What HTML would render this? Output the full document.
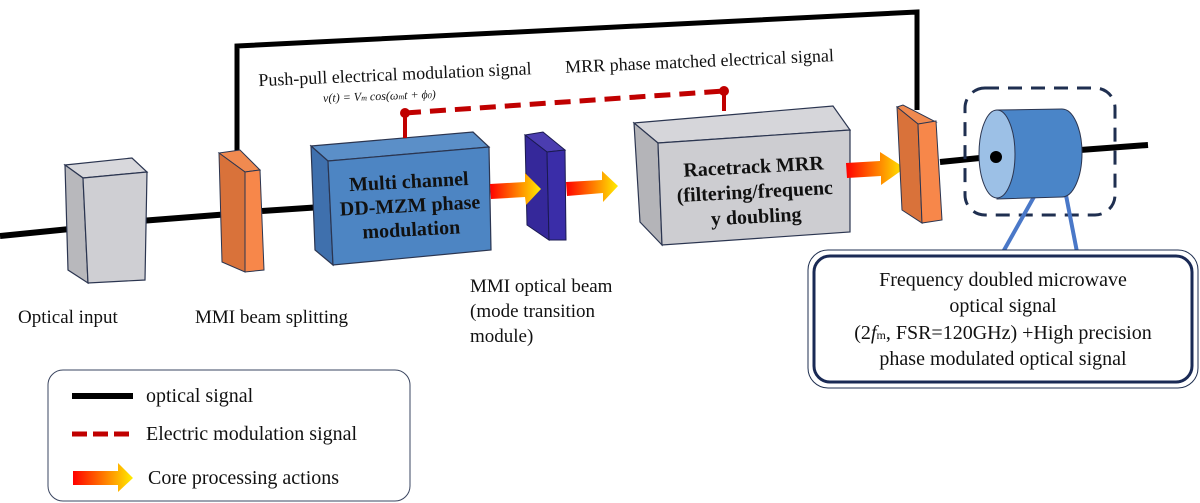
<!DOCTYPE html>
<html><head><meta charset="utf-8"><style>
body{margin:0;background:#fff;}
svg{display:block;font-family:"Liberation Serif","DejaVu Serif",serif;}
svg text{font-family:"Liberation Serif","DejaVu Serif",serif !important;fill:#111;}
</style></head><body>
<svg width="1200" height="503" viewBox="0 0 1200 503" xmlns="http://www.w3.org/2000/svg" font-family="Liberation Serif, DejaVu Serif, serif">
<defs>
<linearGradient id="g" x1="0" x2="1" y1="0" y2="0"><stop offset="0" stop-color="#f00"/><stop offset="1" stop-color="#ffee00"/></linearGradient>
</defs>
<polyline points="0,236 70,229" stroke="#000" stroke-width="6" fill="none"/>
<polyline points="140,221 230,214" stroke="#000" stroke-width="6" fill="none"/>
<polyline points="262,211 322,207" stroke="#000" stroke-width="6" fill="none"/>
<polyline points="940,162 1000,156" stroke="#000" stroke-width="6" fill="none"/>
<polyline points="1080,150 1148,145" stroke="#000" stroke-width="6" fill="none"/>
<polyline points="237,165 237,46 917,12 917,110" stroke="#000" stroke-width="5" fill="none"/>
<polygon points="65,165 132,158 147,172 83,178" fill="#d8d8dc" stroke="#2b3550" stroke-width="1.2"/>
<polygon points="65,165 83,178 88,283 68,270" fill="#b8b8bc" stroke="#2b3550" stroke-width="1.2"/>
<polygon points="83,178 147,172 145,280 88,283" fill="#cfcfd3" stroke="#2b3550" stroke-width="1.2"/>
<polygon points="219,153 240,150 260,170 245,172" fill="#f08a50" stroke="#2b3550" stroke-width="1"/>
<polygon points="219,153 245,172 245,272 222,262" fill="#d9723a" stroke="#2b3550" stroke-width="1"/>
<polygon points="245,172 260,170 264,270 245,272" fill="#f7874a" stroke="#2b3550" stroke-width="1"/>
<polygon points="311,146 473,132 489,147 328,161" fill="#5b8fc8" stroke="#2b3550" stroke-width="1.2"/>
<polygon points="311,146 328,161 333,265 315,250" fill="#3f70ad" stroke="#2b3550" stroke-width="1.2"/>
<polygon points="328,161 489,147 491,250 333,265" fill="#4d85c3" stroke="#2b3550" stroke-width="1.2"/>
<text font-family="Liberation Serif, DejaVu Serif, serif" font-weight="bold" font-size="20" text-anchor="middle" transform="rotate(-3 410 205)"><tspan x="410" y="188">Multi channel</tspan><tspan x="410" y="212">DD-MZM phase</tspan><tspan x="410" y="236">modulation</tspan></text>
<polygon points="525,135 543,132 565,150 547,152" fill="#4b3db0" stroke="#1a1a50" stroke-width="1"/>
<polygon points="525,135 547,152 549,240 527,225" fill="#35289a" stroke="#1a1a50" stroke-width="1"/>
<polygon points="547,152 565,150 566,240 549,240" fill="#3a2da8" stroke="#1a1a50" stroke-width="1"/>
<polygon points="634,123 833,106 850,130 658,143" fill="#d6d6da" stroke="#2b3550" stroke-width="1.2"/>
<polygon points="634,123 658,143 662,245 640,222" fill="#b4b4b8" stroke="#2b3550" stroke-width="1.2"/>
<polygon points="658,143 850,130 850,232 662,245" fill="#cdcdd1" stroke="#2b3550" stroke-width="1.2"/>
<text font-family="Liberation Serif, DejaVu Serif, serif" font-weight="bold" font-size="20" text-anchor="middle" transform="rotate(-3 755 195)"><tspan x="755" y="173">Racetrack MRR</tspan><tspan x="755" y="198">(filtering/frequenc</tspan><tspan x="755" y="223">y doubling</tspan></text>
<polygon points="490,184 525,182 525,173 541,189 526,205 525,197 491,199" fill="url(#g)"/>
<polygon points="566,182 602,180 602,171 618,186 603,202 603,193 567,196" fill="url(#g)"/>
<polygon points="846,163 880,161 880,152 905,168 881,185 881,176 847,178" fill="url(#g)"/>
<polygon points="897,107 903,105 936,122 918,124" fill="#f08a50" stroke="#2b3550" stroke-width="1"/>
<polygon points="897,107 918,124 922,223 902,210" fill="#d9723a" stroke="#2b3550" stroke-width="1"/>
<polygon points="918,124 936,121 942,220 922,223" fill="#f7874a" stroke="#2b3550" stroke-width="1"/>
<line x1="405" y1="113" x2="724" y2="91" stroke="#c00000" stroke-width="5" stroke-dasharray="16,9"/>
<line x1="405" y1="113" x2="405" y2="138" stroke="#c00000" stroke-width="4"/>
<line x1="724" y1="91" x2="724" y2="111" stroke="#c00000" stroke-width="4"/>
<circle cx="405" cy="113" r="5" fill="#c00000"/><circle cx="724" cy="91" r="5" fill="#c00000"/>
<text font-family="Liberation Serif, DejaVu Serif, serif" font-size="18" transform="rotate(-2.5 400 70)" x="258" y="80">Push-pull electrical modulation signal</text>
<text font-family="Liberation Serif, DejaVu Serif, serif" font-size="18" transform="rotate(-2.5 700 60)" x="565" y="67">MRR phase matched electrical signal</text>
<text font-family="Liberation Serif, DejaVu Serif, serif" font-size="12" font-style="italic" x="323" y="100" transform="rotate(-2 380 96)">v(t) = V<tspan font-size="8">m</tspan> cos(ω<tspan font-size="8">m</tspan>t + ϕ<tspan font-size="8">0</tspan>)</text>
<g font-family="Liberation Serif, DejaVu Serif, serif" font-size="19">
<text x="18" y="323">Optical input</text>
<text x="195" y="323">MMI beam splitting</text>
<text x="470" y="292">MMI optical beam</text>
<text x="470" y="317">(mode transition</text>
<text x="470" y="342">module)</text>
</g>
<rect x="965" y="88" width="150" height="127" rx="20" fill="none" stroke="#1f2f50" stroke-width="3" stroke-dasharray="14,9"/>
<line x1="1035" y1="195" x2="1003" y2="252" stroke="#4a78c8" stroke-width="4"/>
<line x1="1065" y1="190" x2="1077" y2="252" stroke="#4a78c8" stroke-width="4"/>
<path d="M997,110 L1062,109 A20,44 0 0 1 1062,197 L997,199 Z" fill="#4a85c8" stroke="#2b3550" stroke-width="1"/>
<ellipse cx="997" cy="154" rx="18" ry="44" fill="#9cc0e6" stroke="#2b3550" stroke-width="1"/>
<circle cx="996" cy="157" r="6" fill="#000"/>
<rect x="808" y="250" width="390" height="138" rx="20" fill="#fff" stroke="#1f2f50" stroke-width="1"/>
<rect x="814" y="256" width="378" height="126" rx="16" fill="none" stroke="#1a2a55" stroke-width="3"/>
<g font-family="Liberation Serif, DejaVu Serif, serif" font-size="20" text-anchor="middle">
<text x="1003" y="286">Frequency doubled microwave</text>
<text x="1003" y="312">optical signal</text>
<text x="1003" y="339">(2<tspan font-style="italic">f</tspan><tspan font-size="12">m</tspan>, FSR=120GHz) +High precision</text>
<text x="1003" y="365">phase modulated optical signal</text>
</g>
<rect x="48" y="370" width="362" height="131" rx="15" fill="#fff" stroke="#3a4560" stroke-width="1"/>
<line x1="72" y1="396" x2="133" y2="396" stroke="#000" stroke-width="6"/>
<line x1="72" y1="434" x2="133" y2="434" stroke="#c00000" stroke-width="5" stroke-dasharray="15,6"/>
<polygon points="73,471 118,471 118,463 133,478 118,492 118,485 73,485" fill="url(#g)"/>
<g font-family="Liberation Serif, DejaVu Serif, serif" font-size="20">
<text x="146" y="402">optical signal</text>
<text x="146" y="440">Electric modulation signal</text>
<text x="148" y="484">Core processing actions</text>
</g>
</svg>
</body></html>
